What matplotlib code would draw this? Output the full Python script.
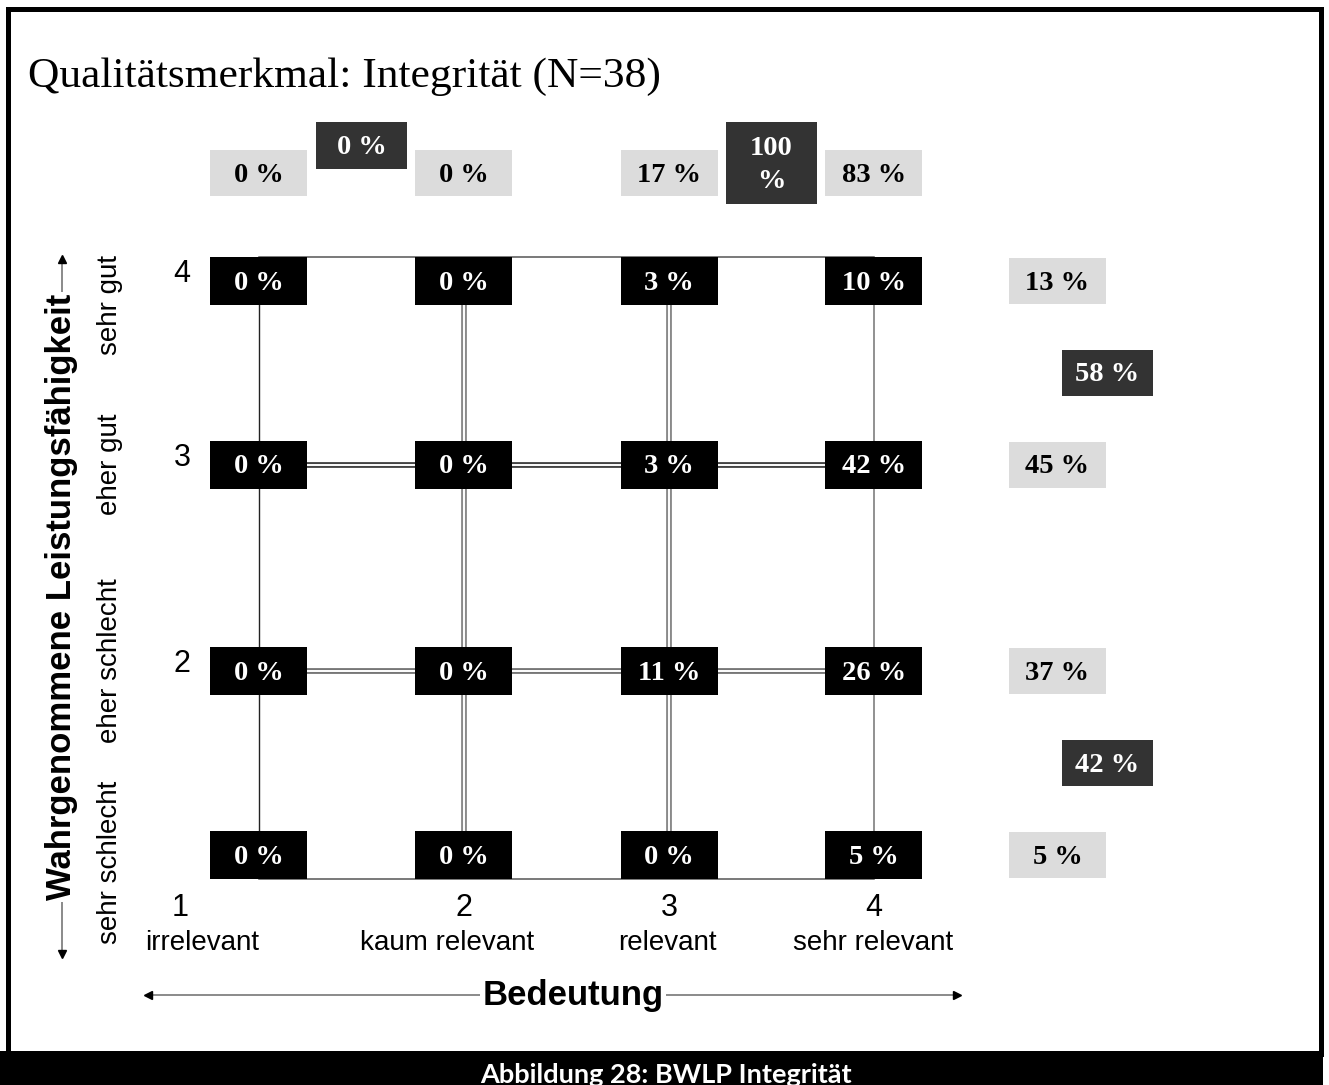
import matplotlib.pyplot as plt
from matplotlib.patches import Rectangle

# values (percent of N=38 answers)
bedeutung_levels = [1, 2, 3, 4]
bedeutung_labels = ['irrelevant', 'kaum relevant', 'relevant', 'sehr relevant']
leistung_levels = [1, 2, 3, 4]
leistung_labels = ['sehr schlecht', 'eher schlecht', 'eher gut', 'sehr gut']

# rows: leistung 1..4, columns: bedeutung 1..4
cell_pct = [
    [0, 0, 0, 5],
    [0, 0, 11, 26],
    [0, 0, 3, 42],
    [0, 0, 3, 10],
]
col_pct = [0, 0, 17, 83]        # per bedeutung level
col_group_pct = [0, 100]        # bedeutung 1+2, 3+4
row_pct = [5, 37, 45, 13]       # per leistung level
row_group_pct = [42, 58]        # leistung 1+2, 3+4
n_total = 38

title = f'Qualitätsmerkmal: Integrität (N={n_total})'
caption = 'Abbildung 28: BWLP Integrität'

# layout (pixels of the 1329x1085 canvas)
W, H = 1329, 1085
COL1_PX, COL_STEP = 259, 205
ROW1_PX, ROW4_PX = 855, 281
ROW_STEP = (ROW1_PX - ROW4_PX) / 3
row_shift = [0, -0.04, 0.04, 0]          # middle rows sit a little apart
xlabel_shift_px = [-57, -17, -2, -1]
ylabel_shift_px = [7, -11, 0, 24]

BLACK, LIGHT, DARK = '#000000', '#dcdcdc', '#333333'
SERIF, SANS = 'Liberation Serif', 'Liberation Sans'


def X(px):
    return 1 + (px - COL1_PX) / COL_STEP


def Y(py):
    return 1 + (ROW1_PX - py) / ROW_STEP


def wx(px):
    return px / COL_STEP


def hy(py):
    return py / ROW_STEP


def box(ax, xc, yc, w, h, face, label, tcolor):
    ax.add_patch(Rectangle((xc - wx(w) / 2, yc - hy(h) / 2), wx(w), hy(h),
                           facecolor=face, edgecolor='none', zorder=3))
    # text sits a touch below the box centre in the original
    ax.text(xc, yc - hy(2), label, ha='center', va='center', color=tcolor,
            fontsize=20.5, fontweight='bold', family=SERIF, zorder=4,
            linespacing=1.45)


def double_line(ax, xs, ys, color):
    ax.plot(xs, ys, color=color, lw=4.2, solid_capstyle='butt', zorder=1)
    ax.plot(xs, ys, color='white', lw=1.4, solid_capstyle='butt', zorder=1.1)


fig = plt.figure(figsize=(W / 100, H / 100), dpi=100)
deco = fig.add_axes([0, 0, 1, 1])
deco.set_xlim(0, W)
deco.set_ylim(H, 0)
deco.axis('off')

ax = fig.add_axes([0, 0, 1, 1])
ax.set_xlim(X(0), X(W))
ax.set_ylim(Y(H), Y(0))
ax.axis('off')

xs = bedeutung_levels
ys = [lv + s for lv, s in zip(leistung_levels, row_shift)]

# grid lines
hb = hy(48) / 2
ax.plot([xs[0], xs[-1]], [ys[-1] + hb] * 2, color='#555555', lw=1.1, zorder=1)
ax.plot([xs[0], xs[-1]], [ys[0] - hb] * 2, color='#555555', lw=1.1, zorder=1)
ax.plot([xs[0]] * 2, [ys[0], ys[-1]], color='#222222', lw=1.0, zorder=1)
ax.plot([xs[3]] * 2, [ys[0], ys[-1]], color='#888888', lw=1.3, zorder=1)
for j in (1, 2):
    double_line(ax, [xs[j]] * 2, [ys[0], ys[-1]], '#8a8a8a')
double_line(ax, [xs[0], xs[-1]], [ys[2]] * 2, '#444444')
double_line(ax, [xs[0], xs[-1]], [ys[1]] * 2, '#777777')

# cells
for i in range(len(leistung_levels)):
    for j, bv in enumerate(bedeutung_levels):
        box(ax, bv, ys[i], 97, 48, BLACK, f'{cell_pct[i][j]} %', 'white')

# column sums on top
for j, bv in enumerate(bedeutung_levels):
    box(ax, bv, Y(173), 97, 46, LIGHT, f'{col_pct[j]} %', 'black')
for g, pct in enumerate(col_group_pct):
    xc = (xs[2 * g] + xs[2 * g + 1]) / 2
    label = f'{pct} %' if pct < 100 else f'{pct}\n%'
    h = 47 if '\n' not in label else 82
    box(ax, xc, Y(122) - hy(h) / 2, 91, h, DARK, label, 'white')

# row sums on the right
for i, pct in enumerate(row_pct):
    box(ax, X(1057.5), ys[i], 97, 46, LIGHT, f'{pct} %', 'black')
for g, pct in enumerate(row_group_pct):
    yc = (ys[2 * g] + ys[2 * g + 1]) / 2
    box(ax, X(1107.5), yc, 91, 46, DARK, f'{pct} %', 'white')

# level numbers and labels
for i, lv in enumerate(leistung_levels):
    if lv > 1:
        ax.text(X(182), ys[i] + hy(7), str(lv), ha='center', va='center',
                fontsize=22, family=SANS)
    ax.text(X(110), ys[i] - hy(ylabel_shift_px[i]), leistung_labels[i],
            rotation=90, ha='center', va='center', fontsize=20, family=SANS)
for j, bv in enumerate(bedeutung_levels):
    xnum = X(180) if bv == 1 else bv
    ax.text(xnum, Y(908), str(bv), ha='center', va='center',
            fontsize=22, family=SANS)
    ax.text(bv + wx(xlabel_shift_px[j]), Y(943), bedeutung_labels[j],
            ha='center', va='center', fontsize=20, family=SANS)

# axis titles with arrows
deco.plot([62, 62], [262, 951], color='#777777', lw=1.2)
deco.plot(62, 259, marker='^', color='black', ms=6)
deco.plot(62, 954, marker='v', color='black', ms=6)
deco.text(62, 597, 'Wahrgenommene Leistungsfähigkeit', rotation=90,
          ha='center', va='center', fontsize=25, fontweight='bold',
          family=SANS, bbox=dict(fc='white', ec='none', pad=1.5))

deco.plot([150, 955], [995, 995], color='#777777', lw=1.2)
deco.plot(148, 995, marker='<', color='black', ms=6)
deco.plot(957, 995, marker='>', color='black', ms=6)
deco.text(573, 1005, 'Bedeutung', ha='center', va='baseline', fontsize=25,
          fontweight='bold', family=SANS,
          bbox=dict(fc='white', ec='none', pad=2))

# title, frame, caption
deco.text(28, 87, title, ha='left', va='baseline', fontsize=31.3, family=SERIF)
deco.add_patch(Rectangle((7.5, 9), 1313, 1045, fill=False, ec='black', lw=3.6))
deco.add_patch(Rectangle((0, 1051), 1323, 40, facecolor='black', edgecolor='none'))
deco.text(666, 1083, caption, ha='center', va='baseline', color='white',
          fontsize=19.5, fontweight='bold', family='Lato')

fig.savefig('out.png', dpi=100)
plt.close(fig)
